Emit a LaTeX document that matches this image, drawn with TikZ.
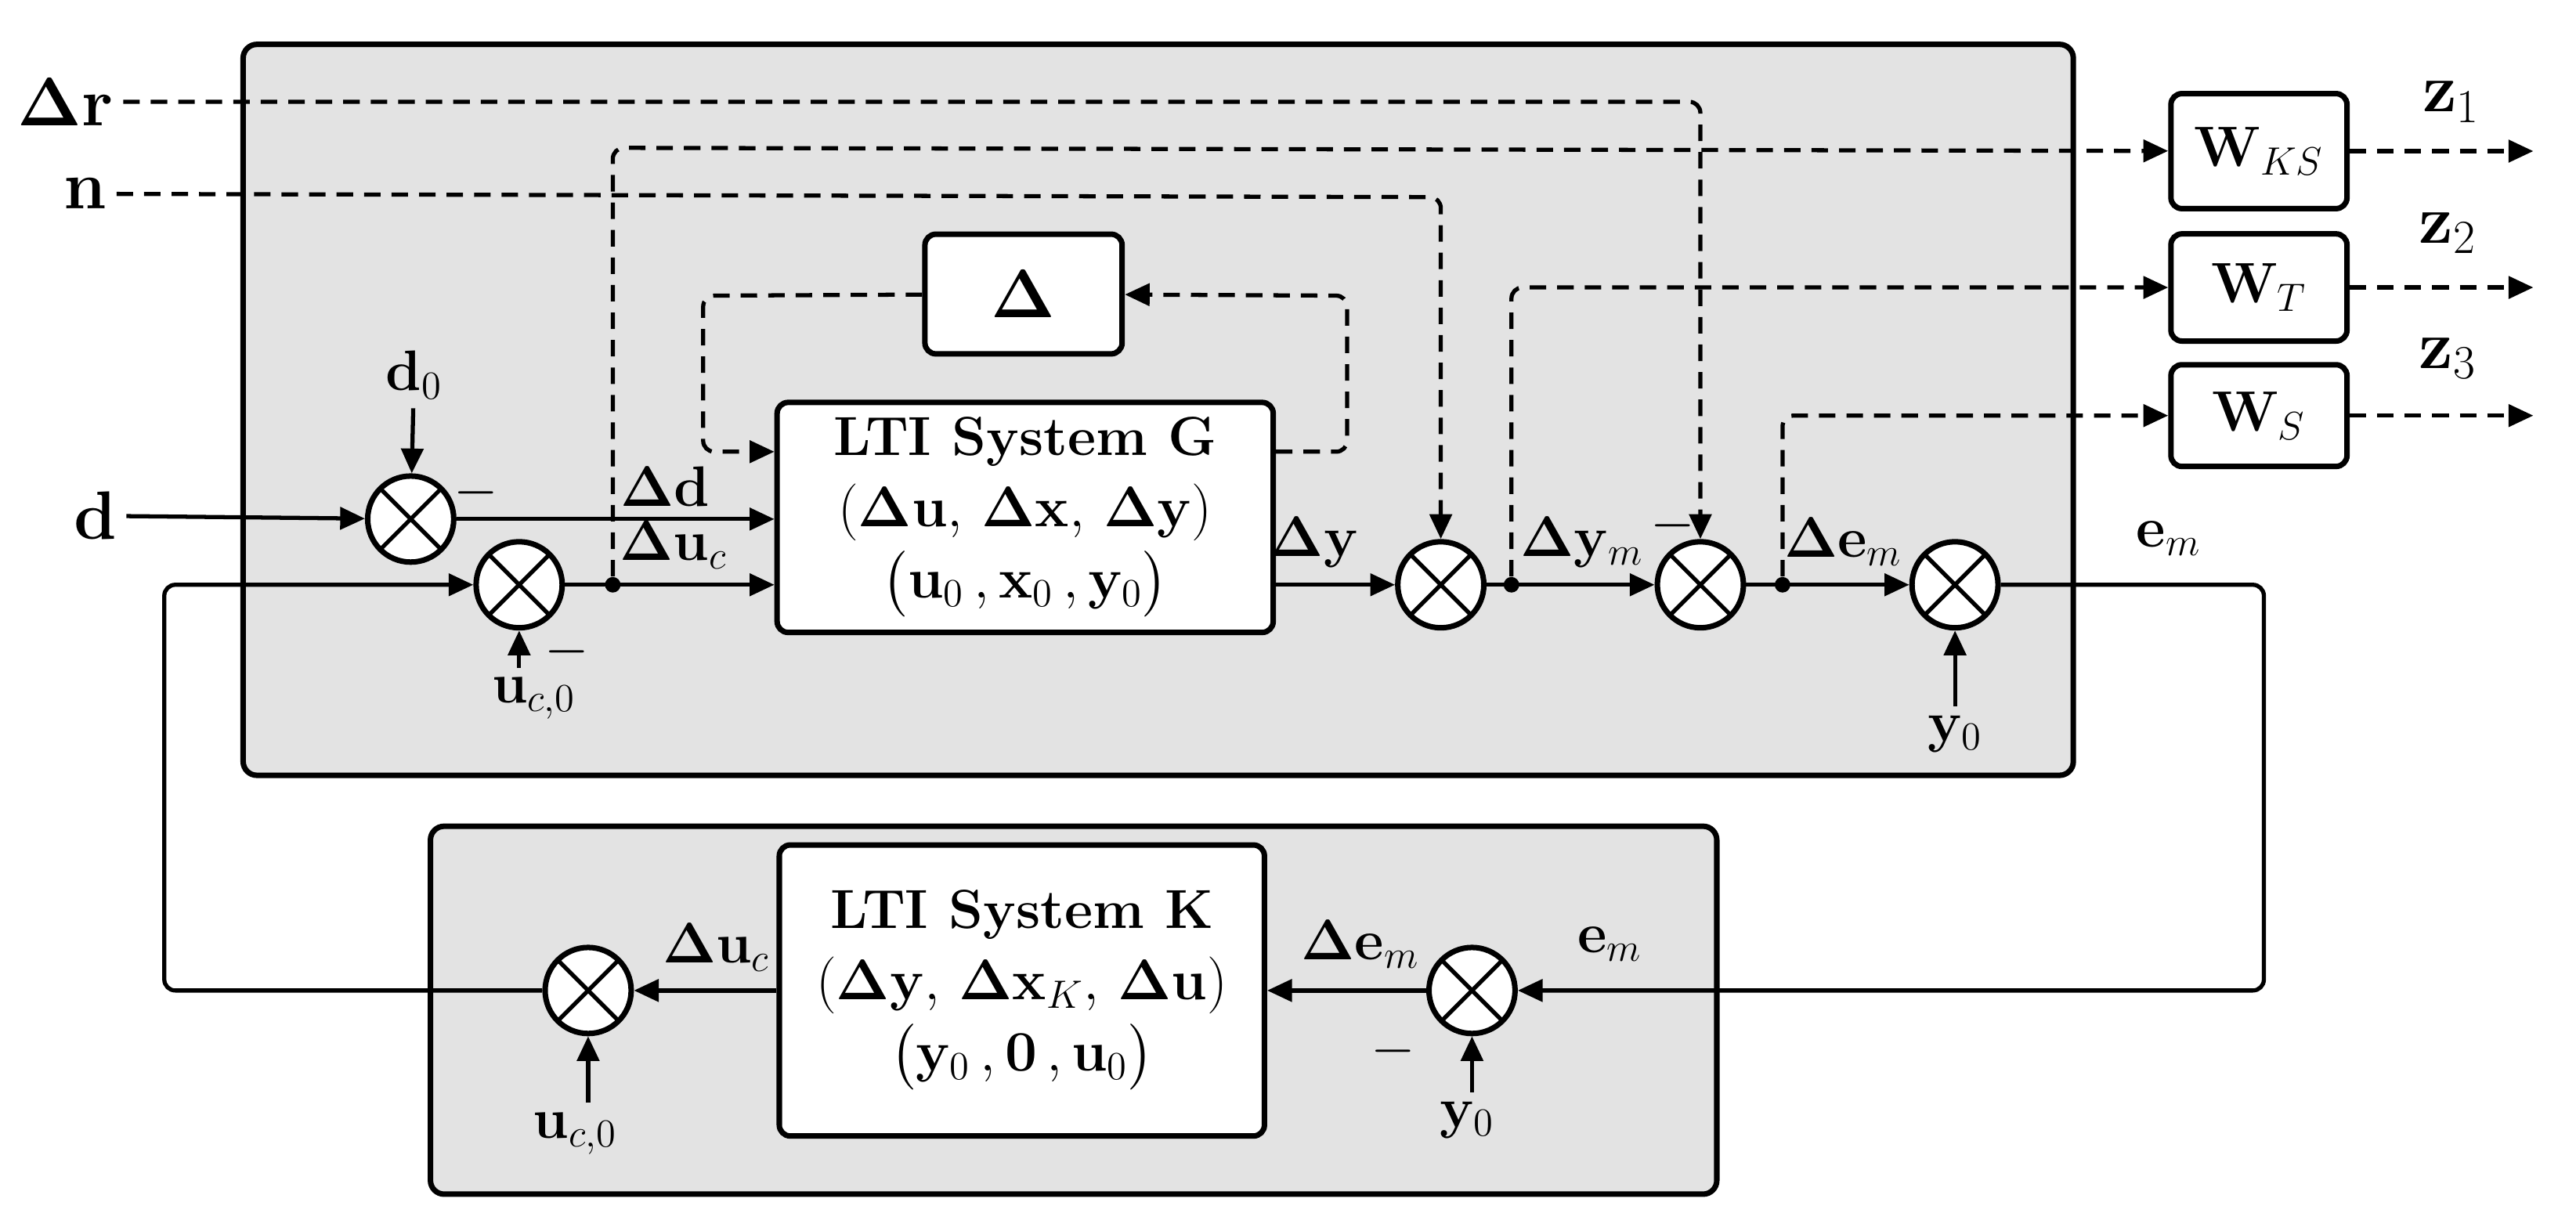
\documentclass[tikz,border=0pt]{standalone}
\usepackage{amsmath}
\usepackage{amssymb}
\usepackage{xcolor}
\usepackage{tikz}
\usetikzlibrary{arrows.meta,calc,shapes,positioning}

\definecolor{panel}{gray}{0.89}
\tikzset{
    sig/.style={line width=1.5pt},
    sigarr/.style={sig,-{Triangle[length=9pt,width=8pt]}},
    dsig/.style={sigarr,dash pattern=on 6pt off 4pt},
    blk/.style={draw,line width=2pt,rounded corners=4pt,fill=white,align=center},
    sumnode/.style={circle,draw,line width=2pt,fill=white,minimum width=1.1cm,inner sep=0pt,
        path picture={\draw[line width=1.5pt] (path picture bounding box.north west) -- (path picture bounding box.south east)
            (path picture bounding box.north east) -- (path picture bounding box.south west);}},
    big/.style={font=\fontsize{30}{34}\selectfont},
    dot/.style={circle,fill,inner sep=2pt}
}
\newcommand{\bD}{\boldsymbol{\Delta}}

\begin{document}
\begin{tikzpicture}[x=0.021cm,y=-0.021cm,font=\fontsize{20}{24}\selectfont\bfseries]
        \useasboundingbox (0,0) rectangle (1568,749);
        % panels
        \draw [line width=2pt,rounded corners=5pt,fill=panel] (148,27) rectangle (1262,472);
        \draw [line width=2pt,rounded corners=5pt,fill=panel] (262,503) rectangle (1045,727);
        % blocks
        \node [blk,minimum width=6.34cm,minimum height=2.94cm] (G) at (624,315)
            {LTI System G\\[2pt] $(\bD\mathbf{u},\,\bD\mathbf{x},\,\bD\mathbf{y})$\\[2pt] $\bigl(\mathbf{u}_0\,,\mathbf{x}_0\,,\mathbf{y}_0\bigr)$};
        \node [blk,big,minimum width=2.52cm,minimum height=1.53cm] (D) at (623,179) {$\bD$};
        \node [blk,minimum width=6.2cm,minimum height=3.72cm] (K) at (622,603)
            {LTI System K\\[2pt] $(\bD\mathbf{y},\,\bD\mathbf{x}_K,\,\bD\mathbf{u})$\\[2pt] $\bigl(\mathbf{y}_0\,,\mathbf{0}\,,\mathbf{u}_0\bigr)$};
        \node [blk,minimum width=2.25cm,minimum height=1.47cm] (Wks) at (1375,92) {$\mathbf{W}_{KS}$};
        \node [blk,minimum width=2.25cm,minimum height=1.37cm] (Wt) at (1375,175) {$\mathbf{W}_T$};
        \node [blk,minimum width=2.25cm,minimum height=1.3cm] (Ws) at (1375,253) {$\mathbf{W}_S$};
        % summing junctions
        \node [sumnode] (sd) at (250,316) {};
        \node [sumnode] (su) at (316,356) {};
        \node [sumnode] (sy) at (877,356) {};
        \node [sumnode] (sr) at (1035,356) {};
        \node [sumnode] (se) at (1190,356) {};
        \node [sumnode] (sk) at (896,603) {};
        \node [sumnode] (suk) at (358,603) {};
        % external signals
        \node [big] (dr) at (40,62) {$\bD\mathbf{r}$};
        \node [big] (n) at (52,118) {$\mathbf{n}$};
        \node [big] (d) at (58,314) {$\mathbf{d}$};
        \node (d0) at (252,228) {$\mathbf{d}_0$};
        \node (uc0) at (325,425) {$\mathbf{u}_{c,0}$};
        \node (y0) at (1190,447) {$\mathbf{y}_0$};
        \node (y0k) at (893,682) {$\mathbf{y}_0$};
        \node (uc0k) at (350,690) {$\mathbf{u}_{c,0}$};
        \node [font=\fontsize{26}{30}\selectfont] (z1) at (1492,62) {$\mathbf{z}_1$};
        \node [font=\fontsize{26}{30}\selectfont] (z2) at (1490,142) {$\mathbf{z}_2$};
        \node [font=\fontsize{26}{30}\selectfont] (z3) at (1490,218) {$\mathbf{z}_3$};
        \coordinate (z1e) at (1542,92);
        \coordinate (z2e) at (1542,175);
        \coordinate (z3e) at (1542,253);
        % branch points
        \node [dot] (bu) at (373,356) {};
        \node [dot] (by) at (920,356) {};
        \node [dot] (be) at (1085,356) {};
        % solid signals
        \draw [sigarr] (d) -- (sd);
        \draw [sigarr] (d0) -- (sd);
        \draw [sigarr] (sd.east) -- (sd.east -| G.west);
        \draw [sigarr] (su) -- (su -| G.west);
        \draw [sigarr] (su |- uc0.north) -- (su);
        \draw [sigarr] (G.east |- sy) -- (sy);
        \draw [sigarr] (sy) -- (sr);
        \draw [sigarr] (sr) -- (se);
        \draw [sigarr] (y0) -- (se);
        \draw [sigarr,rounded corners=4pt] (se) -- (1378,356) -- (1378,603) -- (sk);
        \draw [sigarr] (sk) -- (K.east |- sk);
        \draw [sigarr] (sk |- y0k.north) -- (sk);
        \draw [sigarr] (K.west |- suk) -- (suk);
        \draw [sigarr] (suk |- uc0k.north) -- (suk);
        \draw [sigarr,rounded corners=4pt] (suk) -- (100,603) -- (100,356) -- (su);
        % dashed signals
        \draw [dsig,rounded corners=4pt] (dr) -- (1035,62) -- (sr);
        \draw [dsig,rounded corners=4pt] (n) -- (877,120) -- (sy);
        \draw [dsig,rounded corners=4pt] (bu) -- (373,90) -- (Wks);
        \draw [dsig,rounded corners=4pt] (by) -- (920,175) -- (Wt);
        \draw [dsig,rounded corners=4pt] (be) -- (1085,253) -- (Ws);
        \draw [dsig,rounded corners=4pt] (G.east |- 0,275) -- (820,275) -- (820,180) -- (D);
        \draw [dsig,rounded corners=4pt] (D) -- (428,180) -- (428,275) -- (G.west |- 0,275);
        \draw [dsig] (Wks) -- (z1e);
        \draw [dsig] (Wt) -- (z2e);
        \draw [dsig] (Ws) -- (z3e);
        % signal labels
        \node (ld) at (405,296) {$\bD\mathbf{d}$};
        \node (luc) at (410,332) {$\bD\mathbf{u}_c$};
        \node (ly) at (800,330) {$\bD\mathbf{y}$};
        \node (lym) at (963,330) {$\bD\mathbf{y}_m$};
        \node (lem) at (1122,330) {$\bD\mathbf{e}_m$};
        \node (lem2) at (1320,328) {$\mathbf{e}_m$};
        \node (lem3) at (980,575) {$\mathbf{e}_m$};
        \node (lemk) at (828,575) {$\bD\mathbf{e}_m$};
        \node (luck) at (436,577) {$\bD\mathbf{u}_c$};
        \node (m1) at (290,300) {$-$};
        \node (m2) at (345,397) {$-$};
        \node (m3) at (1018,320) {$-$};
        \node (m4) at (848,640) {$-$};
    \end{tikzpicture}
\end{document}
